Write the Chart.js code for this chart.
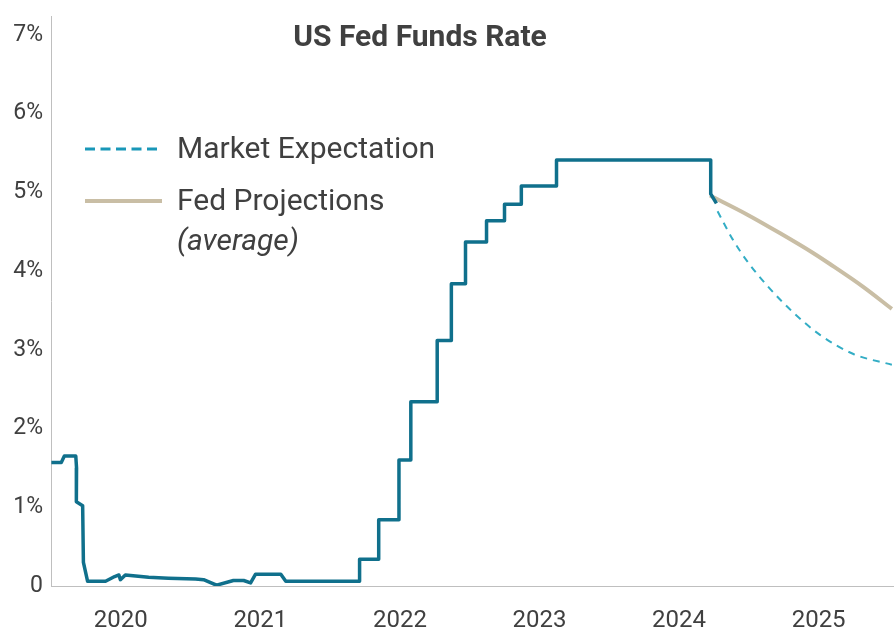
<!DOCTYPE html>
<html lang="en">
<head>
  <meta charset="UTF-8">
  <title>US Fed Funds Rate</title>
  <script src="https://cdn.jsdelivr.net/npm/chart.js"></script>
  <style>
    html, body { margin: 0; padding: 0; background: #fff; }
    #wrap { width: 894px; height: 633px; }
  </style>
</head>
<body>
<div id="wrap"><canvas id="rateChart"></canvas></div>

<script>
  // effective fed funds rate
  const fedDates = [
    '2020-01-02', '2020-01-28', '2020-02-05', '2020-03-06', '2020-03-08', '2020-03-08',
    '2020-03-07', '2020-03-24', '2020-03-26', '2020-04-06', '2020-05-23', '2020-06-16',
    '2020-06-27', '2020-07-01', '2020-07-14', '2020-09-13', '2020-11-04', '2021-01-14',
    '2021-02-04', '2021-03-10', '2021-04-23', '2021-05-20', '2021-06-07', '2021-06-20',
    '2021-08-25', '2021-09-07', '2022-03-19', '2022-03-19', '2022-05-08', '2022-05-08',
    '2022-06-30', '2022-06-30', '2022-07-31', '2022-07-31', '2022-10-08', '2022-10-08',
    '2022-11-14', '2022-11-14', '2022-12-21', '2022-12-21', '2023-02-14', '2023-02-14',
    '2023-04-02', '2023-04-02', '2023-05-16', '2023-05-16', '2023-08-16', '2023-08-16',
    '2024-09-23', '2024-09-23', '2024-10-08'
  ];
  const fedRates = [
    1.57, 1.57, 1.65, 1.65, 1.50, 1.40,
    1.07, 1.02, 0.30, 0.06, 0.06, 0.12,
    0.14, 0.08, 0.14, 0.11, 0.10, 0.09,
    0.08, 0.01, 0.07, 0.07, 0.04, 0.15,
    0.15, 0.06, 0.06, 0.34, 0.34, 0.84,
    0.84, 1.60, 1.60, 2.34, 2.34, 3.12,
    3.12, 3.84, 3.84, 4.37, 4.37, 4.64,
    4.64, 4.85, 4.85, 5.08, 5.08, 5.41,
    5.41, 4.98, 4.86
  ];

  const marketDates = ['2024-10-11', '2024-11-20', '2024-12-27', '2025-02-17', '2025-04-26', '2025-07-06', '2025-09-30', '2026-01-10'];
  const marketRates = [4.76, 4.40, 4.13, 3.82, 3.48, 3.19, 2.95, 2.81];

  const projDates = ['2024-09-21', '2024-12-27', '2025-03-24', '2025-06-18', '2025-08-01', '2025-10-27', '2026-01-10'];
  const projRates = [4.96, 4.72, 4.48, 4.23, 4.09, 3.80, 3.52];

  const yearLabels = [2020, 2021, 2022, 2023, 2024, 2025];
  const yTicks = [0, 1, 2, 3, 4, 5, 6, 7];

  function toYear(s) {
    const [y, m, d] = s.split('-').map(Number);
    const start = Date.UTC(y, 0, 1);
    return y + (Date.UTC(y, m - 1, d) - start) / (Date.UTC(y + 1, 0, 1) - start);
  }
  function toPoints(dates, vals) {
    return dates.map((d, i) => ({ x: toYear(d), y: vals[i] }));
  }

  const TEXT = '#404040';
  const FONT = 'Roboto, "Liberation Sans", sans-serif';

  // title and legend sit inside the plot area
  const overlay = {
    id: 'overlay',
    afterDraw(chart) {
      const ctx = chart.ctx;
      ctx.save();
      ctx.fillStyle = TEXT;
      ctx.textBaseline = 'middle';
      ctx.textAlign = 'center';
      ctx.font = 'bold 30px ' + FONT;
      ctx.fillText('US Fed Funds Rate', 420, 38);

      ctx.textAlign = 'left';
      ctx.lineWidth = 3;
      ctx.strokeStyle = '#1997b8';
      ctx.setLineDash([10, 5.5]);
      ctx.beginPath(); ctx.moveTo(85, 149); ctx.lineTo(162, 149); ctx.stroke();
      ctx.setLineDash([]);
      ctx.lineWidth = 4;
      ctx.strokeStyle = '#c9bea5';
      ctx.beginPath(); ctx.moveTo(85, 201); ctx.lineTo(162, 201); ctx.stroke();

      ctx.font = '30px ' + FONT;
      ctx.fillText('Market Expectation', 177, 150);
      ctx.fillText('Fed Projections', 177, 202);
      ctx.font = 'italic 30px ' + FONT;
      ctx.fillText('(average)', 177, 242);
      ctx.restore();
    }
  };

  const ctx = document.getElementById('rateChart').getContext('2d');
  const chart = new Chart(ctx, {
    type: 'line',
    data: {
      datasets: [
        {
          label: 'Fed Funds Rate',
          data: toPoints(fedDates, fedRates),
          borderColor: '#10708c',
          borderWidth: 3.5,
          pointRadius: 0,
          borderJoinStyle: 'round',
          tension: 0
        },
        {
          label: 'Market Expectation',
          data: toPoints(marketDates, marketRates),
          borderColor: '#33adc5',
          borderWidth: 2,
          borderDash: [7, 6],
          pointRadius: 0,
          cubicInterpolationMode: 'monotone'
        },
        {
          label: 'Fed Projections (average)',
          data: toPoints(projDates, projRates),
          borderColor: '#c9bea5',
          borderWidth: 4,
          pointRadius: 0,
          cubicInterpolationMode: 'monotone'
        }
      ]
    },
    options: {
      responsive: true,
      maintainAspectRatio: false,
      animation: false,
      layout: { padding: { top: 0, right: 0, left: 0, bottom: 0 } },
      plugins: {
        legend: { display: false },
        tooltip: { enabled: false }
      },
      scales: {
        x: {
          type: 'linear',
          min: 2020,
          max: 2026.04,
          grid: { display: false, drawTicks: false },
          border: { color: '#bfbfbf', width: 1 },
          afterBuildTicks: s => { s.ticks = yearLabels.map(y => ({ value: y + 0.5 })); },
          afterFit: s => { s.height = 47; },
          ticks: {
            padding: 21,
            color: TEXT,
            font: { family: FONT, size: 24 },
            maxRotation: 0,
            callback: v => String(Math.floor(v))
          }
        },
        y: {
          min: 0,
          max: 7.24,
          grid: { display: false, drawTicks: false },
          border: { color: '#bfbfbf', width: 1 },
          afterBuildTicks: s => { s.ticks = yTicks.map(v => ({ value: v })); },
          afterFit: s => { s.width = 51; },
          ticks: {
            padding: 8,
            color: TEXT,
            font: { family: FONT, size: 23, lineHeight: 0.7 },
            callback: v => v === 0 ? '0' : v + '%'
          }
        }
      }
    },
    plugins: [overlay]
  });
</script>
</body>
</html>
